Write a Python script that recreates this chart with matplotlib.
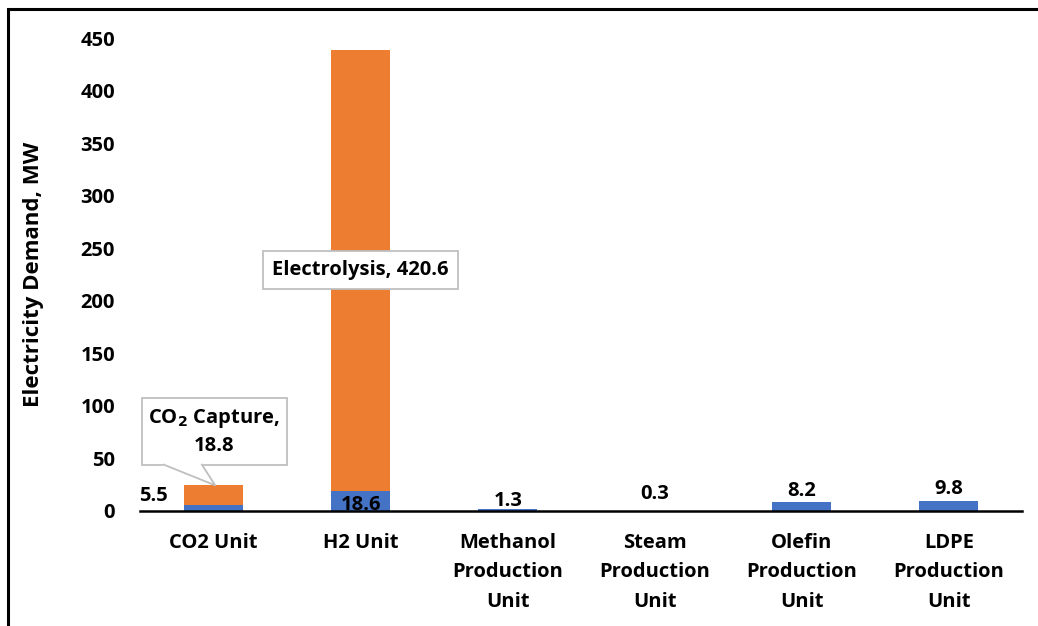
import numpy as np
import matplotlib.pyplot as plt
from matplotlib.patches import Rectangle, Polygon

plt.rcParams['font.family'] = ['Open Sans', 'DejaVu Sans']
plt.rcParams['font.weight'] = 'bold'

# Electricity demand per unit (MW)
units = ['CO2 Unit', 'H2 Unit', 'Methanol\nProduction\nUnit',
         'Steam\nProduction\nUnit', 'Olefin\nProduction\nUnit',
         'LDPE\nProduction\nUnit']
base_demand = [5.5, 18.6, 1.3, 0.3, 8.2, 9.8]
co2_capture = 18.8
electrolysis = 420.6
extra_demand = [co2_capture, electrolysis]

blue = '#4472C4'
orange = '#ED7D31'
grey = '#BFBFBF'
fs = 14.5

fig = plt.figure(figsize=(10.38, 6.26), dpi=100)
ax = fig.add_axes([0.135, 0.184, 0.85, 0.755])

x = np.arange(len(units))
w = 0.4
ax.bar(x, base_demand, w, color=blue, zorder=2)
ax.bar(x[:2], extra_demand, w, bottom=base_demand[:2], color=orange, zorder=2)

ax.set_xlim(-0.5, len(units) - 0.5)
ax.set_ylim(0, 450)
ax.set_yticks(np.arange(0, 451, 50))
ax.set_xticks(x)
ax.set_xticklabels(units, fontsize=fs, fontweight='bold', linespacing=1.62)
ax.tick_params(axis='both', length=0, labelsize=fs)
ax.tick_params(axis='x', pad=16)
ax.tick_params(axis='y', pad=18)
for lbl in ax.get_yticklabels():
    lbl.set_fontweight('bold')
for s in ['top', 'right', 'left']:
    ax.spines[s].set_visible(False)
ax.spines['bottom'].set_linewidth(1.8)
ax.set_ylabel('Electricity Demand, MW', fontsize=16, fontweight='bold', labelpad=26)

# value labels for the base segments
lab_kw = dict(fontsize=fs, fontweight='bold', color='black')
ax.text(x[0] - 0.31, base_demand[0] - 1, f'{base_demand[0]}', ha='right', va='bottom', **lab_kw)
ax.text(x[1], base_demand[1] / 2 - 4, f'{base_demand[1]}', ha='center', va='center', **lab_kw)
ax.text(x[2], base_demand[2] - 1, f'{base_demand[2]}', ha='center', va='bottom', **lab_kw)
ax.text(x[3], base_demand[3] + 6, f'{base_demand[3]}', ha='center', va='bottom', **lab_kw)
ax.text(x[4], base_demand[4] + 1, f'{base_demand[4]}', ha='center', va='bottom', **lab_kw)
ax.text(x[5], base_demand[5] + 1, f'{base_demand[5]}', ha='center', va='bottom', **lab_kw)

# CO2 capture callout: box with a wedge pointing at the top of the bar
co2_top = base_demand[0] + co2_capture
bx0, bx1, by0, by1 = -0.49, 0.50, 44, 107
ax.add_patch(Rectangle((bx0, by0), bx1 - bx0, by1 - by0, fc='white', ec=grey,
                       lw=1.3, zorder=4))
wedge = [(-0.34, by0), (x[0] + 0.01, co2_top), (-0.08, by0)]
ax.add_patch(Polygon(wedge, closed=True, fc='white', ec='none', zorder=5))
ax.plot(*zip(*wedge), color=grey, lw=1.3, zorder=6)
ax.plot([-0.34, -0.08], [by0, by0], color='white', lw=1.5, zorder=5.5)
ax.text((bx0 + bx1) / 2, (by0 + by1) / 2, f'CO$_\\mathbf{{2}}$ Capture,\n{co2_capture}',
        ha='center', va='center', fontsize=fs, fontweight='bold',
        linespacing=1.35, zorder=7)

box = dict(boxstyle='square,pad=0.45', fc='white', ec=grey, lw=1.3)
ax.text(x[1], base_demand[1] + electrolysis / 2, f'Electrolysis, {electrolysis}',
        ha='center', va='center', fontsize=fs, fontweight='bold', bbox=box, zorder=3)

# outer frame
fig.patches.append(Rectangle((8 / 1038, -0.1), 1.2, 1 - 9 / 626 + 0.1,
                             transform=fig.transFigure, fill=False,
                             ec='black', lw=2.2))

fig.savefig('out.png', dpi=100)
